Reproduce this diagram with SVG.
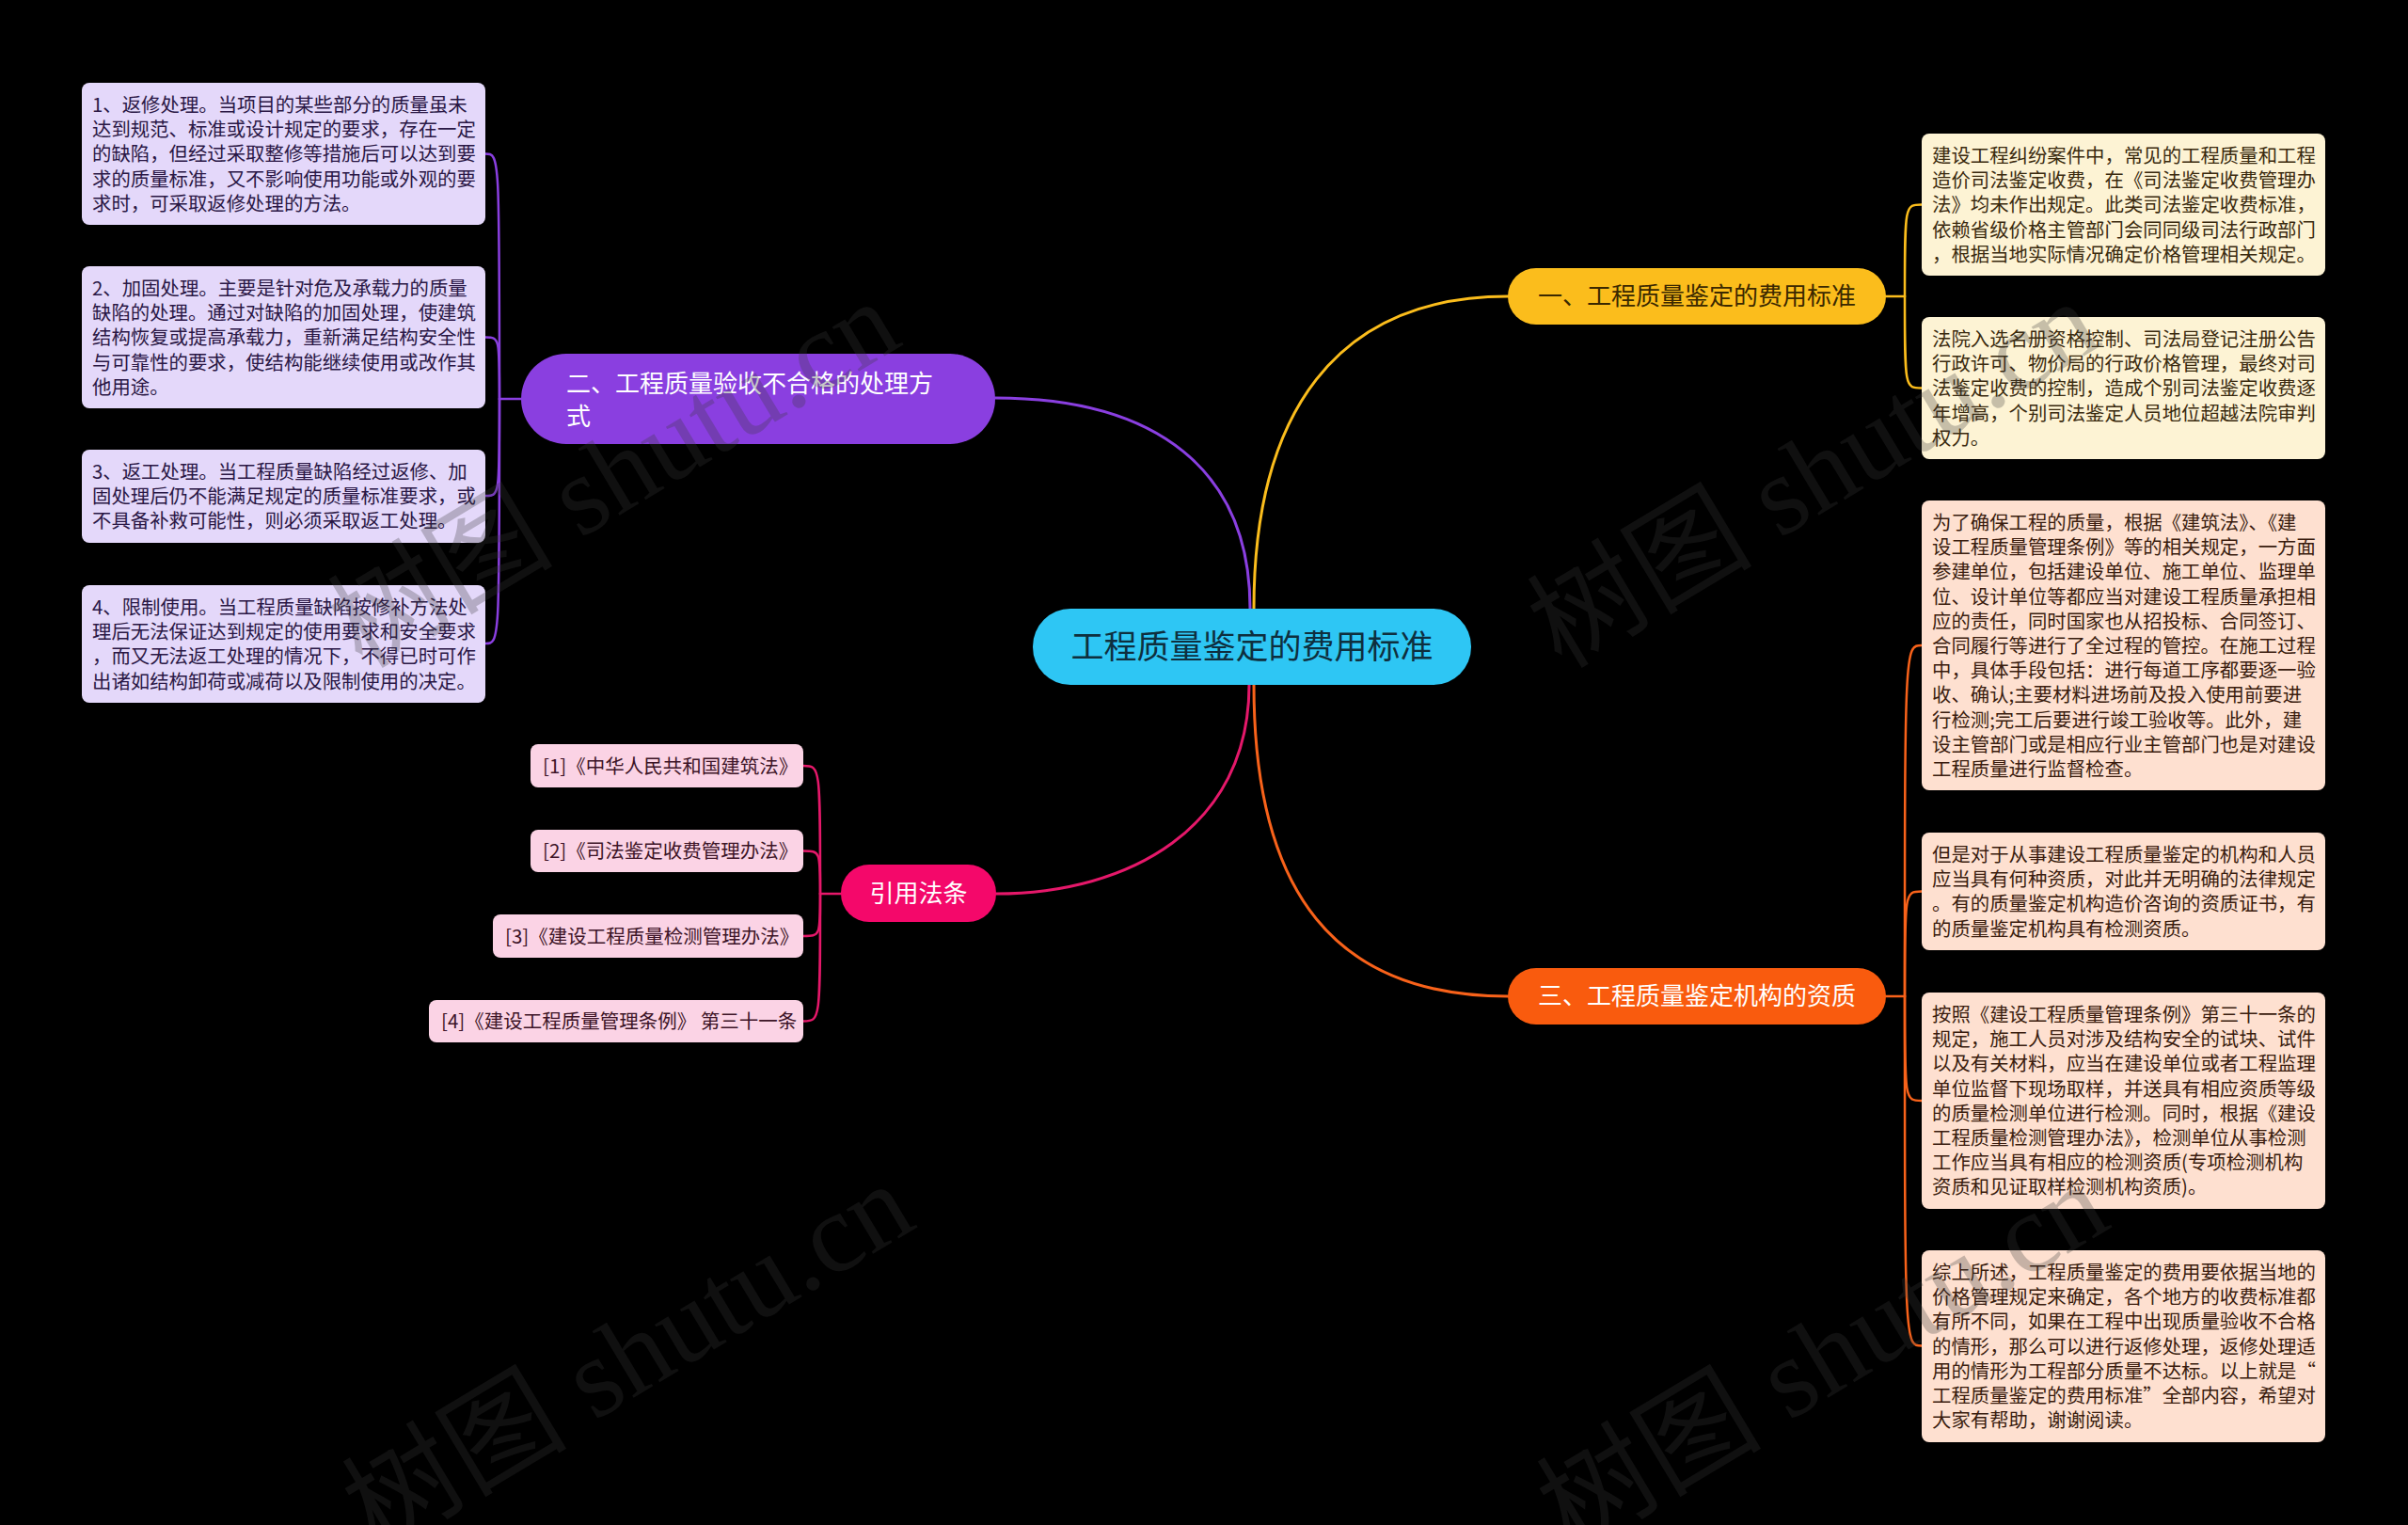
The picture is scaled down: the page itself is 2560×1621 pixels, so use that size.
<svg xmlns="http://www.w3.org/2000/svg" width="2560" height="1621" viewBox="0 0 2560 1621">
<defs>
<style>
text{font-family:"Noto Sans CJK SC","Liberation Sans",sans-serif;}
.leaf text{font-size:20.4px;}
.lp rect{fill:#e4d8fa;}
.lp text{fill:#2a1745;}
.ly rect{fill:#fdf3d4;}
.ly text{fill:#3a2a0e;}
.lo rect{fill:#fee0d0;}
.lo text{fill:#3a1c0e;}
.law rect{fill:#fbd3e5;}
.law text{fill:#3d1427;font-size:20.5px;}
.conn path{fill:none;stroke-linecap:round;}
.wm{font-family:"Liberation Serif","Noto Sans CJK SC",serif;font-size:120px;fill:#3a3a3a;opacity:0.28;}
</style>
</defs>
<rect x="0" y="0" width="2560" height="1621" fill="#000000"/>

<g id="connectors" class="conn">
  <path d="M1329 647 C1329 500 1230 423 1058 423" stroke="#8a3fe0" stroke-width="3"/>
  <path d="M1333 647 C1333 440 1420 315 1603 315" stroke="#fbbd1c" stroke-width="3"/>
  <path d="M1333 728 C1333 950 1420 1059 1603 1059" stroke="#f8621a" stroke-width="3"/>
  <path d="M1328 728 C1328 880 1200 950 1059 950" stroke="#e5186a" stroke-width="3"/>
  <g stroke="#8a3fe0" stroke-width="2.5">
    <path d="M554 424 L531 424"/>
    <path d="M531 424 C531 163.5 531 163.5 516 163.5"/>
    <path d="M531 424 C531 358.5 531 358.5 516 358.5"/>
    <path d="M531 424 C531 527 531 527 516 527"/>
    <path d="M531 424 C531 684 531 684 516 684"/>
  </g>
  <g stroke="#e5186a" stroke-width="2.5">
    <path d="M894 950 L872 950"/>
    <path d="M872 950 C872 814 872 814 854 814"/>
    <path d="M872 950 C872 904.5 872 904.5 854 904.5"/>
    <path d="M872 950 C872 995 872 995 854 995"/>
    <path d="M872 950 C872 1085.5 872 1085.5 854 1085.5"/>
  </g>
  <g stroke="#fbbd1c" stroke-width="2.5">
    <path d="M2005 315 L2025 315"/>
    <path d="M2025 315 C2025 217.5 2025 217.5 2043 217.5"/>
    <path d="M2025 315 C2025 412.5 2025 412.5 2043 412.5"/>
  </g>
  <g stroke="#f8621a" stroke-width="2.5">
    <path d="M2005 1059 L2025 1059"/>
    <path d="M2025 1059 C2025 686 2025 686 2043 686"/>
    <path d="M2025 1059 C2025 947.5 2025 947.5 2043 947.5"/>
    <path d="M2025 1059 C2025 1170 2025 1170 2043 1170"/>
    <path d="M2025 1059 C2025 1430.5 2025 1430.5 2043 1430.5"/>
  </g>
</g>

<g id="root">
  <rect x="1098" y="647" width="466" height="81" rx="40" fill="#2ec6f4"/>
  <text x="1331" y="700" font-size="35" fill="#0e2f3e" text-anchor="middle">工程质量鉴定的费用标准</text>
</g>

<g id="branch-1">
  <rect x="1603" y="285" width="402" height="60" rx="30" fill="#fbbd1c"/>
  <text x="1804" y="324" font-size="26" fill="#3a2800" text-anchor="middle">一、工程质量鉴定的费用标准</text>
</g>
<g id="branch-2">
  <rect x="554" y="376" width="504" height="96" rx="48" fill="#8a3fe0"/>
  <text x="602" y="417" font-size="26" fill="#ffffff">二、工程质量验收不合格的处理方<tspan x="602" y="452">式</tspan></text>
</g>
<g id="branch-3">
  <rect x="1603" y="1029" width="402" height="60" rx="30" fill="#f95b0e"/>
  <text x="1804" y="1068" font-size="26" fill="#ffffff" text-anchor="middle">三、工程质量鉴定机构的资质</text>
</g>
<g id="branch-4">
  <rect x="894" y="919" width="165" height="61" rx="30" fill="#f4086a"/>
  <text x="976.5" y="959" font-size="26" fill="#ffffff" text-anchor="middle">引用法条</text>
</g>

<g id="leaf-p1" class="leaf lp">
  <rect x="87" y="88" width="429" height="151" rx="8"/>
  <text x="98" y="119"><tspan x="98">1、返修处理。当项目的某些部分的质量虽未</tspan><tspan x="98" dy="26.2">达到规范、标准或设计规定的要求，存在一定</tspan><tspan x="98" dy="26.2">的缺陷，但经过采取整修等措施后可以达到要</tspan><tspan x="98" dy="26.2">求的质量标准，又不影响使用功能或外观的要</tspan><tspan x="98" dy="26.2">求时，可采取返修处理的方法。</tspan></text>
</g>
<g id="leaf-p2" class="leaf lp">
  <rect x="87" y="283" width="429" height="151" rx="8"/>
  <text x="98" y="314"><tspan x="98">2、加固处理。主要是针对危及承载力的质量</tspan><tspan x="98" dy="26.2">缺陷的处理。通过对缺陷的加固处理，使建筑</tspan><tspan x="98" dy="26.2">结构恢复或提高承载力，重新满足结构安全性</tspan><tspan x="98" dy="26.2">与可靠性的要求，使结构能继续使用或改作其</tspan><tspan x="98" dy="26.2">他用途。</tspan></text>
</g>
<g id="leaf-p3" class="leaf lp">
  <rect x="87" y="478" width="429" height="99" rx="8"/>
  <text x="98" y="509"><tspan x="98">3、返工处理。当工程质量缺陷经过返修、加</tspan><tspan x="98" dy="26.2">固处理后仍不能满足规定的质量标准要求，或</tspan><tspan x="98" dy="26.2">不具备补救可能性，则必须采取返工处理。</tspan></text>
</g>
<g id="leaf-p4" class="leaf lp">
  <rect x="87" y="622" width="429" height="125" rx="8"/>
  <text x="98" y="653"><tspan x="98">4、限制使用。当工程质量缺陷按修补方法处</tspan><tspan x="98" dy="26.2">理后无法保证达到规定的使用要求和安全要求</tspan><tspan x="98" dy="26.2">，而又无法返工处理的情况下，不得已时可作</tspan><tspan x="98" dy="26.2">出诸如结构卸荷或减荷以及限制使用的决定。</tspan></text>
</g>

<g id="leaf-y1" class="leaf ly">
  <rect x="2043" y="142" width="429" height="151" rx="8"/>
  <text x="2054" y="173"><tspan x="2054">建设工程纠纷案件中，常见的工程质量和工程</tspan><tspan x="2054" dy="26.2">造价司法鉴定收费，在《司法鉴定收费管理办</tspan><tspan x="2054" dy="26.2">法》均未作出规定。此类司法鉴定收费标准，</tspan><tspan x="2054" dy="26.2">依赖省级价格主管部门会同同级司法行政部门</tspan><tspan x="2054" dy="26.2">，根据当地实际情况确定价格管理相关规定。</tspan></text>
</g>
<g id="leaf-y2" class="leaf ly">
  <rect x="2043" y="337" width="429" height="151" rx="8"/>
  <text x="2054" y="368"><tspan x="2054">法院入选名册资格控制、司法局登记注册公告</tspan><tspan x="2054" dy="26.2">行政许可、物价局的行政价格管理，最终对司</tspan><tspan x="2054" dy="26.2">法鉴定收费的控制，造成个别司法鉴定收费逐</tspan><tspan x="2054" dy="26.2">年增高，个别司法鉴定人员地位超越法院审判</tspan><tspan x="2054" dy="26.2">权力。</tspan></text>
</g>

<g id="leaf-o1" class="leaf lo">
  <rect x="2043" y="532" width="429" height="308" rx="8"/>
  <text x="2054" y="563"><tspan x="2054">为了确保工程的质量，根据《建筑法》、《建</tspan><tspan x="2054" dy="26.2">设工程质量管理条例》等的相关规定，一方面</tspan><tspan x="2054" dy="26.2">参建单位，包括建设单位、施工单位、监理单</tspan><tspan x="2054" dy="26.2">位、设计单位等都应当对建设工程质量承担相</tspan><tspan x="2054" dy="26.2">应的责任，同时国家也从招投标、合同签订、</tspan><tspan x="2054" dy="26.2">合同履行等进行了全过程的管控。在施工过程</tspan><tspan x="2054" dy="26.2">中，具体手段包括：进行每道工序都要逐一验</tspan><tspan x="2054" dy="26.2">收、确认;主要材料进场前及投入使用前要进</tspan><tspan x="2054" dy="26.2">行检测;完工后要进行竣工验收等。此外，建</tspan><tspan x="2054" dy="26.2">设主管部门或是相应行业主管部门也是对建设</tspan><tspan x="2054" dy="26.2">工程质量进行监督检查。</tspan></text>
</g>
<g id="leaf-o2" class="leaf lo">
  <rect x="2043" y="885" width="429" height="125" rx="8"/>
  <text x="2054" y="916"><tspan x="2054">但是对于从事建设工程质量鉴定的机构和人员</tspan><tspan x="2054" dy="26.2">应当具有何种资质，对此并无明确的法律规定</tspan><tspan x="2054" dy="26.2">。有的质量鉴定机构造价咨询的资质证书，有</tspan><tspan x="2054" dy="26.2">的质量鉴定机构具有检测资质。</tspan></text>
</g>
<g id="leaf-o3" class="leaf lo">
  <rect x="2043" y="1055" width="429" height="230" rx="8"/>
  <text x="2054" y="1086"><tspan x="2054">按照《建设工程质量管理条例》第三十一条的</tspan><tspan x="2054" dy="26.2">规定，施工人员对涉及结构安全的试块、试件</tspan><tspan x="2054" dy="26.2">以及有关材料，应当在建设单位或者工程监理</tspan><tspan x="2054" dy="26.2">单位监督下现场取样，并送具有相应资质等级</tspan><tspan x="2054" dy="26.2">的质量检测单位进行检测。同时，根据《建设</tspan><tspan x="2054" dy="26.2">工程质量检测管理办法》，检测单位从事检测</tspan><tspan x="2054" dy="26.2">工作应当具有相应的检测资质(专项检测机构</tspan><tspan x="2054" dy="26.2">资质和见证取样检测机构资质)。</tspan></text>
</g>
<g id="leaf-o4" class="leaf lo">
  <rect x="2043" y="1329" width="429" height="204" rx="8"/>
  <text x="2054" y="1360"><tspan x="2054">综上所述，工程质量鉴定的费用要依据当地的</tspan><tspan x="2054" dy="26.2">价格管理规定来确定，各个地方的收费标准都</tspan><tspan x="2054" dy="26.2">有所不同，如果在工程中出现质量验收不合格</tspan><tspan x="2054" dy="26.2">的情形，那么可以进行返修处理，返修处理适</tspan><tspan x="2054" dy="26.2">用的情形为工程部分质量不达标。以上就是“</tspan><tspan x="2054" dy="26.2">工程质量鉴定的费用标准”全部内容，希望对</tspan><tspan x="2054" dy="26.2">大家有帮助，谢谢阅读。</tspan></text>
</g>

<g id="law-1" class="law">
  <rect x="564" y="791" width="290" height="46" rx="8"/>
  <text x="577" y="821.5">[1]《中华人民共和国建筑法》</text>
</g>
<g id="law-2" class="law">
  <rect x="564" y="882" width="290" height="45" rx="8"/>
  <text x="577" y="912">[2]《司法鉴定收费管理办法》</text>
</g>
<g id="law-3" class="law">
  <rect x="524" y="972" width="330" height="46" rx="8"/>
  <text x="537" y="1002.5">[3]《建设工程质量检测管理办法》</text>
</g>
<g id="law-4" class="law">
  <rect x="456" y="1063" width="398" height="45" rx="8"/>
  <text x="469" y="1093">[4]《建设工程质量管理条例》 第三十一条</text>
</g>

<g id="watermark">
  <text class="wm" transform="translate(385 712) rotate(-31)">树图 shutu.cn</text>
  <text class="wm" transform="translate(1660 712) rotate(-31)">树图 shutu.cn</text>
  <text class="wm" transform="translate(400 1650) rotate(-31)">树图 shutu.cn</text>
  <text class="wm" transform="translate(1670 1650) rotate(-31)">树图 shutu.cn</text>
</g>
</svg>
